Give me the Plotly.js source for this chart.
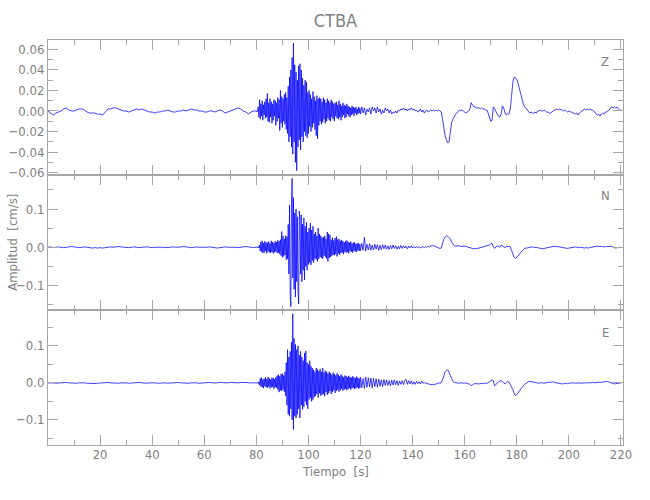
<!DOCTYPE html>
<html>
<head>
<meta charset="utf-8">
<script src="https://cdn.plot.ly/plotly-3.0.1.min.js"></script>
<style>html,body{margin:0;padding:0;background:#fff;}#chart{width:650px;height:500px;}</style>
</head>
<body>
<div id="chart"></div>
<script>
// ---- sampling of the three read-off segments (seconds) ----
const quietStart = 0, quietStep = 1;      // 0 .. 80 s
const activeStart = 80, activeStep = 0.25; // 80 .. 120 s
const lateStart = 120, lateStep = 0.5;    // 120 .. 220 s

const timeTicks = [20, 40, 60, 80, 100, 120, 140, 160, 180, 200, 220];
const zTicks = [-0.06, -0.04, -0.02, 0, 0.02, 0.04, 0.06];
const nTicks = [-0.1, 0, 0.1];
const eTicks = [-0.1, 0, 0.1];
const componentLabels = ["Z", "N", "E"];

// ---- Z component (cm/s) ----
const zQuiet = [
  0.000,-0.002,-0.004,-0.002,-0.001, 0.000, 0.002, 0.003, 0.001, 0.000,
  0.000, 0.001, 0.002, 0.002, 0.001,-0.001,-0.002,-0.002,-0.002,-0.003,
 -0.003,-0.004,-0.001, 0.002, 0.002, 0.003, 0.003, 0.002, 0.001, 0.000,
  0.000,-0.001, 0.000, 0.001, 0.002, 0.001, 0.002, 0.001, 0.000,-0.001,
 -0.001,-0.002,-0.001,-0.001, 0.000, 0.000, 0.001, 0.000,-0.001,-0.001,
  0.000, 0.000, 0.001, 0.000, 0.001, 0.002, 0.001, 0.001, 0.000, 0.000,
 -0.001,-0.001, 0.000, 0.000,-0.001, 0.000, 0.001, 0.000,-0.002,-0.001,
  0.000, 0.001, 0.002, 0.003, 0.002, 0.000,-0.001,-0.003,-0.001, 0.000,
  0.000
];
const zActive = [
  0.000,-0.001, 0.001, 0.004,-0.006, 0.011,-0.008, 0.007,   // 80
 -0.005, 0.010,-0.009, 0.006,-0.004, 0.009,-0.007, 0.012,   // 82
 -0.006, 0.017,-0.010, 0.008,-0.011, 0.012,-0.006, 0.009,   // 84
 -0.012, 0.007,-0.009, 0.011,-0.005, 0.010,-0.014, 0.008,   // 86
 -0.010, 0.013,-0.007, 0.011,-0.019, 0.020,-0.012, 0.014,   // 88
 -0.016, 0.012,-0.010, 0.016,-0.013, 0.018,-0.018, 0.013,   // 90
 -0.022, 0.024,-0.030, 0.033,-0.025, 0.040,-0.035, 0.052,   // 92
 -0.042, 0.066,-0.030, 0.045,-0.050, 0.038,-0.058, 0.030,   // 94
 -0.035, 0.044,-0.028, 0.046,-0.038, 0.040,-0.025, 0.032,   // 96
 -0.030, 0.025,-0.020, 0.030,-0.024, 0.028,-0.026, 0.018,   // 98
 -0.022, 0.020,-0.015, 0.016,-0.020, 0.012,-0.016, 0.019,   // 100
 -0.012, 0.014,-0.018, 0.010,-0.024, 0.015,-0.027, 0.012,   // 102
 -0.014, 0.013,-0.010, 0.012,-0.013, 0.009,-0.011, 0.013,   // 104
 -0.008, 0.011,-0.012, 0.008,-0.010, 0.012,-0.007, 0.010,   // 106
 -0.009, 0.008,-0.010, 0.011,-0.006, 0.009,-0.008, 0.007,   // 108
 -0.010, 0.008,-0.005, 0.009,-0.007, 0.006,-0.008, 0.010,   // 110
 -0.006, 0.007,-0.009, 0.005,-0.006, 0.008,-0.004, 0.006,   // 112
 -0.007, 0.005,-0.006, 0.007,-0.003, 0.005,-0.005, 0.004,   // 114
 -0.006, 0.003,-0.004, 0.005,-0.003, 0.004,-0.005, 0.003,   // 116
 -0.002, 0.004,-0.004, 0.002,-0.003, 0.004,-0.002, 0.003,   // 118
 -0.003                                                      // 120
];
const zLate = [
 -0.003, 0.004,-0.002, 0.003,-0.004, 0.002,-0.001, 0.003,-0.003, 0.004, 0.000, 0.003,-0.002, 0.004,-0.001, 0.002,-0.003, 0.001,-0.002, 0.003, // 120
  0.000, 0.002,-0.002, 0.001,-0.003,-0.001,-0.002, 0.000,-0.002, 0.001, 0.000, 0.002, 0.001, 0.003, 0.001, 0.002, 0.000, 0.002, 0.001, 0.003, // 130
  0.001, 0.002, 0.000, 0.001,-0.001, 0.000, 0.002,-0.001, 0.001,-0.002, 0.000, 0.001,-0.001, 0.000, 0.001, 0.000, 0.001, 0.000, 0.001, 0.000, // 140
  0.001, 0.000,-0.001,-0.008,-0.018,-0.024,-0.028,-0.031,-0.030,-0.020,-0.011,-0.008,-0.005,-0.003,-0.002, 0.000, 0.001, 0.000, 0.001, 0.000, // 150
 -0.001,-0.002,-0.001, 0.000, 0.002, 0.008, 0.006, 0.004, 0.004, 0.003, 0.003, 0.003, 0.002, 0.003, 0.002, 0.002, 0.001, 0.001,-0.002,-0.007, // 160
 -0.010,-0.009, 0.004, 0.002,-0.001,-0.003,-0.005,-0.006,-0.003, 0.005, 0.003,-0.002,-0.004,-0.003,-0.003, 0.002, 0.014, 0.028, 0.033, 0.032, // 170
  0.031, 0.027, 0.022, 0.017, 0.011, 0.007, 0.004, 0.003, 0.001,-0.001,-0.002,-0.001,-0.002,-0.002,-0.001,-0.002, 0.000, 0.000, 0.001, 0.000, // 180
  0.000, 0.001, 0.000,-0.001,-0.001,-0.002,-0.002,-0.001, 0.000, 0.001, 0.001, 0.002, 0.001, 0.002, 0.001, 0.001, 0.000, 0.001, 0.000,-0.001, // 190
  0.000,-0.001,-0.001,-0.002,-0.002,-0.003,-0.002,-0.004,-0.002,-0.001, 0.000, 0.001, 0.002, 0.001, 0.002, 0.001, 0.002, 0.001, 0.001, 0.000, // 200
 -0.001,-0.003,-0.004,-0.003,-0.005,-0.003,-0.002,-0.003,-0.001,-0.001, 0.000, 0.001, 0.003, 0.004, 0.003, 0.004, 0.003, 0.004, 0.002, 0.001, // 210
  0.001
];

// ---- N component (cm/s) ----
const nQuiet = [
  0.000, 0.001,-0.001, 0.000, 0.001, 0.000,-0.001, 0.000, 0.001, 0.002,
  0.001, 0.000,-0.001, 0.000, 0.001, 0.000,-0.001,-0.002,-0.001,-0.002,
 -0.001,-0.002,-0.001, 0.000, 0.001, 0.000, 0.001, 0.002, 0.001, 0.000,
  0.000,-0.001, 0.000, 0.001, 0.000,-0.001, 0.000, 0.001, 0.001, 0.000,
 -0.001, 0.000, 0.000, 0.001, 0.000,-0.001,-0.001, 0.000, 0.001, 0.000,
  0.000, 0.001, 0.002, 0.001, 0.000,-0.001, 0.000, 0.001, 0.000, 0.000,
 -0.001, 0.000, 0.001, 0.000,-0.001,-0.002,-0.001, 0.000, 0.001, 0.000,
  0.000, 0.001, 0.000,-0.001, 0.000, 0.001, 0.002, 0.001, 0.000,-0.001,
  0.000
];
const nActive = [
  0.000, 0.001,-0.001, 0.002,-0.002, 0.006,-0.010, 0.014,   // 80
 -0.012, 0.017,-0.015, 0.011,-0.014, 0.016,-0.010, 0.013,   // 82
 -0.016, 0.012,-0.011, 0.015,-0.013, 0.010,-0.015, 0.017,   // 84
 -0.012, 0.014,-0.016, 0.011,-0.013, 0.016,-0.011, 0.013,   // 86
 -0.015, 0.018,-0.014, 0.016,-0.018, 0.020,-0.022, 0.041,   // 88
 -0.026, 0.030,-0.024, 0.022,-0.020, 0.030,-0.033, 0.028,   // 90
 -0.030, 0.060,-0.070, 0.110,-0.120,-0.155, 0.120, 0.180,   // 92
 -0.080, 0.130,-0.110, 0.090,-0.130, 0.100,-0.090, 0.080,   // 94
 -0.110,-0.148, 0.095, 0.070,-0.070, 0.085,-0.090, 0.060,   // 96
 -0.060, 0.077,-0.085, 0.055,-0.050, 0.065,-0.060, 0.040,   // 98
 -0.045, 0.050,-0.040, 0.063,-0.046, 0.045,-0.035, 0.055,   // 100
 -0.040, 0.035,-0.030, 0.040,-0.032, 0.030,-0.037, 0.050,   // 102
 -0.030, 0.035,-0.025, 0.030,-0.028, 0.025,-0.030, 0.027,   // 104
 -0.022, 0.030,-0.025, 0.022,-0.030, 0.040,-0.037, 0.035,   // 106
 -0.028, 0.032,-0.025, 0.020,-0.022, 0.025,-0.020, 0.018,   // 108
 -0.021, 0.024,-0.018, 0.028,-0.024, 0.020,-0.016, 0.022,   // 110
 -0.020, 0.017,-0.015, 0.019,-0.014, 0.016,-0.018, 0.013,   // 112
 -0.012, 0.016,-0.014, 0.018,-0.012, 0.014,-0.016, 0.012,   // 114
 -0.010, 0.015,-0.012, 0.010,-0.014, 0.012,-0.009, 0.013,   // 116
 -0.011, 0.009,-0.012, 0.010,-0.008, 0.011,-0.010, 0.008,   // 118
 -0.009                                                      // 120
];
const nLate = [
 -0.009, 0.010,-0.008, 0.026,-0.010, 0.008,-0.007, 0.009,-0.008, 0.006,-0.007, 0.008,-0.005, 0.007,-0.008, 0.005,-0.006, 0.007,-0.004, 0.006, // 120
 -0.005, 0.004,-0.006, 0.005,-0.004, 0.006,-0.003, 0.004,-0.005, 0.003,-0.004, 0.005,-0.003, 0.004,-0.002, 0.003,-0.004, 0.003,-0.002, 0.004, // 130
 -0.002, 0.002,-0.002, 0.002,-0.001, 0.002,-0.002, 0.001, 0.002,-0.001, 0.002, 0.000, 0.003, 0.001, 0.004, 0.005, 0.003, 0.004, 0.001,-0.001, // 140
 -0.002,-0.003,-0.002, 0.012, 0.021, 0.027, 0.030, 0.029, 0.025, 0.022, 0.014, 0.008, 0.004, 0.003, 0.004, 0.003, 0.004, 0.002, 0.003, 0.004, // 150
  0.003, 0.002, 0.001, 0.000,-0.002,-0.004,-0.003,-0.004,-0.003,-0.004,-0.003,-0.002,-0.001, 0.000, 0.000, 0.001, 0.002, 0.003, 0.004, 0.006, // 160
  0.009, 0.010, 0.002,-0.003, 0.001, 0.003, 0.002, 0.000, 0.006, 0.004, 0.000,-0.001, 0.002, 0.003, 0.002, 0.001,-0.008,-0.018,-0.026,-0.029, // 170
 -0.027,-0.023,-0.018,-0.013,-0.009,-0.006,-0.003,-0.002,-0.001, 0.000, 0.001, 0.000, 0.001, 0.000, 0.000,-0.001,-0.001,-0.002,-0.003,-0.003, // 180
 -0.004,-0.003,-0.002,-0.001, 0.000, 0.001, 0.002, 0.003, 0.002, 0.003, 0.002, 0.002, 0.001, 0.001, 0.000,-0.001,-0.001,-0.002,-0.002,-0.003, // 190
 -0.002,-0.001, 0.000, 0.001, 0.000, 0.001, 0.000, 0.000,-0.001, 0.000,-0.001,-0.001,-0.002,-0.001,-0.002,-0.002,-0.001, 0.000, 0.001, 0.001, // 200
  0.002, 0.002, 0.003, 0.002, 0.003, 0.002, 0.002, 0.001, 0.001, 0.002, 0.001, 0.002, 0.003, 0.001, 0.000,-0.001,-0.002,-0.001, 0.000, 0.000, // 210
  0.000
];

// ---- E component (cm/s) ----
const eQuiet = [
  0.000, 0.001, 0.000,-0.001, 0.000, 0.001, 0.002, 0.001, 0.000,-0.001,
 -0.002,-0.001, 0.000, 0.001, 0.000,-0.001,-0.002,-0.003,-0.002,-0.001,
  0.000, 0.001, 0.002, 0.001, 0.000,-0.001,-0.002,-0.001, 0.000, 0.001,
  0.000,-0.001, 0.000, 0.001, 0.002, 0.001, 0.000,-0.001,-0.001, 0.000,
  0.001, 0.000,-0.001, 0.000, 0.001, 0.000,-0.001, 0.000, 0.001, 0.002,
  0.001, 0.000,-0.001,-0.002,-0.001, 0.000, 0.001, 0.000,-0.001, 0.000,
  0.001, 0.002, 0.001, 0.000,-0.001, 0.000, 0.001, 0.000,-0.001, 0.000,
  0.001, 0.000,-0.001, 0.000, 0.001, 0.002, 0.001, 0.000,-0.001, 0.000,
  0.000
];
const eActive = [
  0.000,-0.001, 0.001,-0.002, 0.003,-0.006, 0.012,-0.010,   // 80
  0.014,-0.012, 0.009,-0.014, 0.011,-0.009, 0.015,-0.012,   // 82
  0.010,-0.013, 0.016,-0.010, 0.012,-0.015, 0.009,-0.012,   // 84
  0.014,-0.011, 0.013,-0.016, 0.010,-0.012, 0.015,-0.013,   // 86
  0.020,-0.018, 0.022,-0.025, 0.018,-0.020, 0.024,-0.022,   // 88
  0.025,-0.018, 0.020,-0.024, 0.030,-0.035, 0.055,-0.060,   // 90
  0.090,-0.085, 0.070,-0.090, 0.085,-0.070, 0.110,-0.100,   // 92
  0.187,-0.126, 0.120,-0.090, 0.104,-0.095, 0.090,-0.085,   // 94
  0.100,-0.070, 0.075,-0.095, 0.085,-0.060, 0.070,-0.072,   // 96
  0.060,-0.065, 0.080,-0.050, 0.086,-0.060, 0.055,-0.070,   // 98
  0.050,-0.045, 0.060,-0.040, 0.045,-0.050, 0.040,-0.045,   // 100
  0.035,-0.038, 0.030,-0.035, 0.040,-0.030, 0.036,-0.040,   // 102
  0.032,-0.028, 0.038,-0.035, 0.030,-0.032, 0.040,-0.030,   // 104
  0.028,-0.036, 0.033,-0.025, 0.030,-0.032, 0.025,-0.028,   // 106
  0.030,-0.022, 0.026,-0.030, 0.022,-0.025, 0.028,-0.020,   // 108
  0.024,-0.027, 0.020,-0.022, 0.026,-0.018, 0.022,-0.024,   // 110
  0.018,-0.020, 0.023,-0.016, 0.019,-0.021, 0.015,-0.018,   // 112
  0.020,-0.016, 0.018,-0.020, 0.015,-0.017, 0.019,-0.014,   // 114
  0.016,-0.018, 0.014,-0.015, 0.018,-0.013, 0.015,-0.017,   // 116
  0.013,-0.015, 0.017,-0.012, 0.014,-0.016, 0.012,-0.014,   // 118
  0.015                                                      // 120
];
const eLate = [
  0.015,-0.013, 0.012,-0.015, 0.016,-0.012, 0.014,-0.011, 0.013,-0.014, 0.012,-0.010, 0.011,-0.012, 0.010,-0.009, 0.008,-0.010, 0.009,-0.007, // 120
  0.008,-0.007, 0.006,-0.008, 0.007,-0.006, 0.008,-0.005, 0.006,-0.007, 0.005,-0.004, 0.006,-0.005, 0.007, 0.010,-0.004, 0.006,-0.003, 0.005, // 130
 -0.004, 0.003,-0.004, 0.004,-0.002, 0.003,-0.003, 0.004,-0.001, 0.001,-0.002, 0.000,-0.003,-0.004,-0.003,-0.005,-0.004,-0.005,-0.003,-0.001, // 140
  0.000,-0.001, 0.000, 0.008, 0.020, 0.030, 0.034, 0.035, 0.028, 0.019, 0.010, 0.004, 0.001, 0.000,-0.001, 0.000,-0.001, 0.000,-0.001, 0.000, // 150
 -0.001, 0.000,-0.001,-0.002,-0.004,-0.008,-0.004,-0.003,-0.002,-0.003,-0.002,-0.003,-0.002,-0.003,-0.002,-0.001,-0.002,-0.001, 0.000, 0.002, // 160
  0.004, 0.008, 0.006,-0.008,-0.004, 0.000, 0.003, 0.005, 0.006, 0.003,-0.001,-0.003, 0.000, 0.004, 0.002,-0.004,-0.008,-0.018,-0.028,-0.034, // 170
 -0.031,-0.028,-0.022,-0.016,-0.012,-0.008,-0.004,-0.001, 0.001, 0.003, 0.004, 0.003, 0.002, 0.001, 0.000,-0.001, 0.000,-0.001, 0.000, 0.001, // 180
  0.000,-0.001, 0.000, 0.001, 0.001, 0.002, 0.001, 0.002, 0.003, 0.001, 0.000,-0.001,-0.002,-0.001,-0.002,-0.003,-0.002,-0.003,-0.002,-0.001, // 190
 -0.002,-0.001, 0.000, 0.001, 0.000,-0.001, 0.000,-0.001, 0.000,-0.001, 0.000,-0.001, 0.000, 0.000,-0.001, 0.000, 0.000, 0.001, 0.000, 0.001, // 200
  0.000, 0.001, 0.001, 0.002, 0.001, 0.002, 0.002, 0.003, 0.003, 0.004, 0.003, 0.002, 0.000,-0.002,-0.002,-0.003,-0.002,-0.001, 0.000, 0.000, // 210
  0.000
];

// ---- build traces ----
const FONT = '"DejaVu Sans Condensed", "Liberation Sans Narrow", "Liberation Sans", sans-serif';
const AXIS_COL = '#a6a6a6';
const TEXT_COL = '#7f7f7f';
const TRACE_COL = '#0000ff';

const components = [
  {quiet: zQuiet, active: zActive, late: zLate, xa: 'x',  ya: 'y'},
  {quiet: nQuiet, active: nActive, late: nLate, xa: 'x2', ya: 'y2'},
  {quiet: eQuiet, active: eActive, late: eLate, xa: 'x3', ya: 'y3'}
];
const traces = [];
components.forEach(c => {
  [[c.quiet, quietStart, quietStep], [c.active, activeStart, activeStep], [c.late, lateStart, lateStep]].forEach(seg => {
    traces.push({
      type: 'scatter', mode: 'lines', y: seg[0], x0: seg[1], dx: seg[2],
      xaxis: c.xa, yaxis: c.ya, showlegend: false, hoverinfo: 'skip',
      line: {color: TRACE_COL, width: 0.75}
    });
  });
});

function xAxis(showLabels, anchor) {
  return {
    anchor: anchor, domain: [0, 1], range: [0, 220.8],
    showline: true, linecolor: AXIS_COL, linewidth: 1, mirror: 'allticks',
    ticks: 'inside', ticklen: 10, tickwidth: 1, tickcolor: AXIS_COL,
    tickmode: 'array', tickvals: timeTicks, ticktext: timeTicks.map(String),
    showticklabels: showLabels, ticklabelstandoff: -3,
    minor: {ticks: 'inside', ticklen: 5, tickcolor: AXIS_COL, tickmode: 'linear', tick0: 0, dtick: 10, showgrid: false},
    showgrid: false, zeroline: false,
    tickfont: {family: FONT, size: 13, color: TEXT_COL}
  };
}
function yAxis(domain, range, ticks, fmt, minorStep, anchor) {
  return {
    anchor: anchor, domain: domain, range: range,
    showline: true, linecolor: AXIS_COL, linewidth: 1, mirror: 'allticks',
    ticks: 'inside', ticklen: 10, tickwidth: 1, tickcolor: AXIS_COL,
    tickmode: 'array', tickvals: ticks, tickformat: fmt,
    minor: {ticks: 'inside', ticklen: 5, tickcolor: AXIS_COL, tickmode: 'linear', tick0: 0, dtick: minorStep, showgrid: false},
    showgrid: false, zeroline: false,
    tickfont: {family: FONT, size: 13, color: TEXT_COL}
  };
}

const panelY = [0.946, 0.615, 0.277];
const annotations = componentLabels.map((lab, i) => ({
  text: lab, xref: 'paper', yref: 'paper', x: 0.969, y: panelY[i],
  xanchor: 'center', yanchor: 'middle', showarrow: false,
  font: {family: FONT, size: 13, color: TEXT_COL}
}));
annotations.push({
  text: 'Amplitud  [cm/s]', xref: 'paper', yref: 'paper', x: -0.062, y: 0.5,
  xanchor: 'center', yanchor: 'middle', textangle: -90, showarrow: false,
  font: {family: FONT, size: 13, color: TEXT_COL}
});
annotations.push({
  text: 'Tiempo  [s]', xref: 'paper', yref: 'paper', x: 0.5, y: -0.066,
  xanchor: 'center', yanchor: 'middle', showarrow: false,
  font: {family: FONT, size: 13, color: TEXT_COL}
});

const layout = {
  width: 650, height: 500,
  margin: {l: 48, r: 27, t: 40, b: 55},
  paper_bgcolor: '#ffffff', plot_bgcolor: '#ffffff',
  title: {text: 'CTBA', xref: 'paper', x: 0.5, xanchor: 'center', yref: 'container', y: 0.958, yanchor: 'middle',
          font: {family: FONT, size: 18, color: TEXT_COL}},
  xaxis: xAxis(false, 'y'),
  xaxis2: Object.assign(xAxis(false, 'y2'), {matches: 'x'}),
  xaxis3: Object.assign(xAxis(true, 'y3'), {matches: 'x'}),
  yaxis: yAxis([2/3, 1], [-0.0623, 0.0691], zTicks, '.2f', 0.01, 'x'),
  yaxis2: yAxis([1/3, 2/3], [-0.164, 0.189], nTicks, '.1f', 0.05, 'x2'),
  yaxis3: yAxis([0, 1/3], [-0.168, 0.197], eTicks, '.1f', 0.05, 'x3'),
  annotations: annotations,
  hovermode: false
};

Plotly.newPlot('chart', traces, layout, {displayModeBar: false, staticPlot: true});
</script>
</body>
</html>
